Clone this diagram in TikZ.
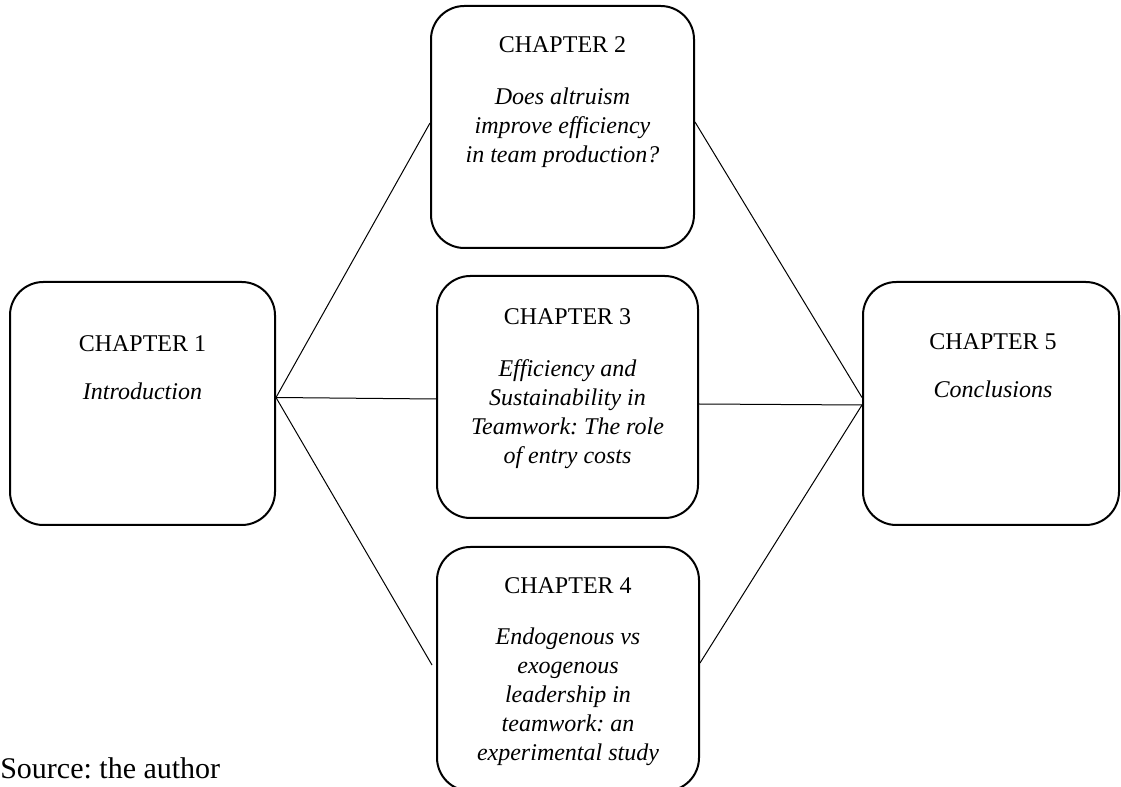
\documentclass[tikz,border=0pt]{standalone}
\usepackage{fontspec}
\setmainfont{Liberation Serif}
\usetikzlibrary{calc}
\frenchspacing
\tikzset{
  chap/.style={draw, line width=1.5pt, rounded corners=25pt, inner sep=0pt, fill=white},
  conn/.style={line width=0.75pt},
  body/.style={font=\fontsize{18}{21.75}\selectfont, inner sep=0pt, anchor=base},
}
\begin{document}
\begin{tikzpicture}[x=0.75pt, y=-0.75pt]
\useasboundingbox (0,0) rectangle (1121,787);
% boxes
\node[chap, minimum width=198.75pt, minimum height=182.25pt] (b1) at (142.5,403.5) {};
\node[chap, minimum width=197.25pt, minimum height=181.5pt] (b2) at (562.5,127) {};
\node[chap, minimum width=195.75pt, minimum height=181.5pt] (b3) at (567.5,397) {};
\node[chap, minimum width=196.5pt, minimum height=183pt] (b4) at (568,669) {};
\node[chap, minimum width=192pt, minimum height=182.25pt] (b5) at (991,403.5) {};
% connectors
\draw[conn] ($(b1.east)+(0,-6)$) -- ($(b2.west)+(0,-4)$);
\draw[conn] ($(b1.east)+(0,-6)$) -- ($(b3.west)+(0,2)$);
\draw[conn] ($(b1.east)+(0,-6)$) -- ($(b4.west)+(-4,-4)$);
\draw[conn] ($(b2.east)+(0,-5)$) -- ($(b5.west)+(0,-6)$);
\draw[conn] ($(b3.east)+(0,7)$) -- ($(b5.west)+(0,1.5)$);
\draw[conn] ($(b4.east)+(0,-6)$) -- ($(b5.west)+(0,1.5)$);
% texts
\node[body] (t1) at (142.5,352) {\begin{tabular}[t]{@{}c@{}}CHAPTER 1\\[14pt]\textit{Introduction}\end{tabular}};
\node[body] (t2) at (562.5,53) {\begin{tabular}[t]{@{}c@{}}CHAPTER 2\\[17pt]\textit{Does altruism}\\\textit{improve efficiency}\\\textit{in team production?}\end{tabular}};
\node[body] (t3) at (567.5,325) {\begin{tabular}[t]{@{}c@{}}CHAPTER 3\\[17pt]\textit{Efficiency and}\\\textit{Sustainability in}\\\textit{Teamwork: The role}\\\textit{of entry costs}\end{tabular}};
\begin{scope}
\clip (400,540) rectangle (740,765);
\node[body] (t4) at (568,593) {\begin{tabular}[t]{@{}c@{}}CHAPTER 4\\[17pt]\textit{Endogenous vs}\\\textit{exogenous}\\\textit{leadership in}\\\textit{teamwork: an}\\\textit{experimental study}\end{tabular}};
\end{scope}
\node[body] (t5) at (993,350) {\begin{tabular}[t]{@{}c@{}}CHAPTER 5\\[14pt]\textit{Conclusions}\end{tabular}};
\node[font=\fontsize{22.5}{27}\selectfont, inner sep=0pt, anchor=base west] (src) at (0,778) {Source: the author};
\end{tikzpicture}
\end{document}
